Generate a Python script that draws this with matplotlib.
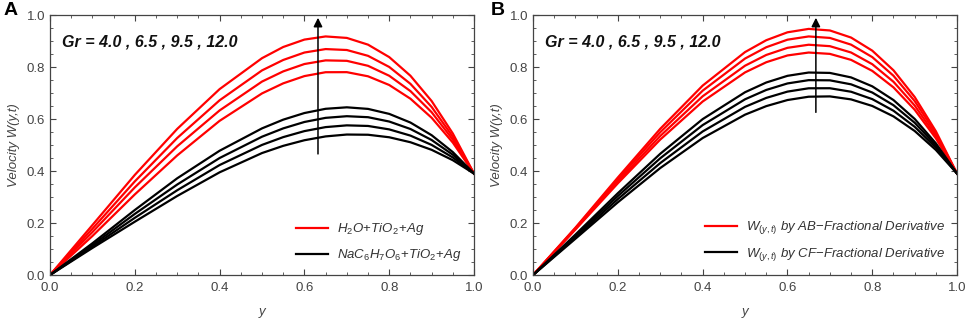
import matplotlib
matplotlib.use("Agg")
import matplotlib.pyplot as plt
from matplotlib.ticker import MultipleLocator

plt.rcParams['font.family'] = ['Liberation Sans', 'DejaVu Sans']
plt.rcParams['mathtext.fontset'] = 'custom'
plt.rcParams['mathtext.rm'] = 'Liberation Sans'
plt.rcParams['mathtext.it'] = 'Liberation Sans:italic'

# === données ===
y_pts = [0, 0.1, 0.2, 0.3, 0.4, 0.5, 0.55, 0.6, 0.65, 0.7, 0.75, 0.8, 0.85, 0.9, 0.95, 1.0]
gr_values = [4.0, 6.5, 9.5, 12.0]

# panneau A : H2O+TiO2+Ag (rouge), NaC6H7O6+TiO2+Ag (noir)
a_red = [
    [0, .1500, .3100, .4600, .5930, .6985, .7372, .7651, .7800, .7802, .7643, .7308, .6781, .6048, .5093, .39],
    [0, .1650, .3370, .4950, .6330, .7440, .7832, .8115, .8255, .8238, .8046, .7663, .7074, .6261, .5208, .39],
    [0, .1780, .3600, .5270, .6720, .7870, .8271, .8557, .8690, .8654, .8430, .8002, .7353, .6464, .5319, .39],
    [0, .1920, .3850, .5620, .7150, .8340, .8770, .9055, .9176, .9119, .8860, .8381, .7664, .6691, .5442, .39],
]
a_black = [
    [0, .1040, .2050, .3040, .3950, .4691, .4968, .5184, .5331, .5403, .5395, .5298, .5107, .4815, .4415, .39],
    [0, .1090, .2200, .3260, .4230, .5004, .5304, .5535, .5689, .5756, .5733, .5601, .5362, .5004, .4520, .39],
    [0, .1150, .2350, .3480, .4500, .5320, .5640, .5886, .6045, .6108, .6070, .5903, .5616, .5193, .4625, .39],
    [0, .1220, .2500, .3720, .4780, .5640, .5975, .6230, .6393, .6450, .6389, .6197, .5864, .5377, .4727, .39],
]

# panneau B : AB (rouge), CF (noir)
b_red = [
    [0, .1750, .3528, .5210, .6673, .7793, .8185, .8445, .8557, .8505, .8275, .7851, .7217, .6357, .5257, .39],
    [0, .1774, .3601, .5347, .6875, .8051, .8464, .8738, .8857, .8802, .8558, .8108, .7433, .6519, .5347, .39],
    [0, .1800, .3680, .5492, .7090, .8326, .8761, .9051, .9176, .9119, .8860, .8381, .7664, .6691, .5442, .39],
    [0, .1823, .3751, .5624, .7285, .8575, .9031, .9335, .9466, .9406, .9133, .8629, .7874, .6847, .5529, .39],
]
b_black = [
    [0, .1396, .2797, .4115, .5268, .6168, .6496, .6730, .6858, .6870, .6755, .6502, .6101, .5540, .4810, .39],
    [0, .1452, .2919, .4306, .5521, .6468, .6812, .7054, .7182, .7184, .7049, .6765, .6319, .5701, .4899, .39],
    [0, .1505, .3037, .4491, .5766, .6759, .7118, .7368, .7495, .7488, .7334, .7019, .6531, .5857, .4985, .39],
    [0, .1556, .3147, .4664, .5996, .7031, .7404, .7661, .7788, .7773, .7600, .7257, .6729, .6003, .5065, .39],
]

labels_a = [r'$H_2O\!+\!TiO_2\!+\!Ag$', r'$NaC_6H_7O_6\!+\!TiO_2\!+\!Ag$']
labels_b = [r'$W_{(y,t)}$ by AB$-$Fractional Derivative', r'$W_{(y,t)}$ by CF$-$Fractional Derivative']
arrow_x = [0.632, 0.667]
arrow_start = [0.455, 0.615]

fig = plt.figure(figsize=(9.69, 3.25), dpi=100)
ax_a = fig.add_axes([0.0516, 0.1538, 0.4376, 0.80])
ax_b = fig.add_axes([0.5501, 0.1538, 0.4376, 0.80])

gr_txt = "Gr = " + " , ".join(f"{g:.1f}" for g in gr_values)

for i, (ax, reds, blacks, labels, letter) in enumerate(zip(
        [ax_a, ax_b], [a_red, b_red], [a_black, b_black], [labels_a, labels_b], ['A', 'B'])):
    for k, curve in enumerate(reds):
        ax.plot(y_pts, curve, color='#ff0000', lw=1.6, label=labels[0] if k == 0 else None)
    for k, curve in enumerate(blacks):
        ax.plot(y_pts, curve, color='black', lw=1.6, label=labels[1] if k == 0 else None)

    ax.annotate('', xy=(arrow_x[i], 1.0), xytext=(arrow_x[i], arrow_start[i]),
                arrowprops=dict(arrowstyle='-|>', color='black', lw=1.1, mutation_scale=13))
    ax.text(0.028, 0.895, gr_txt, fontsize=11.5, fontweight='bold', fontstyle='italic',
            va='center', ha='left', color='#111111')

    ax.set_xlim(0, 1)
    ax.set_ylim(0, 1)
    ax.xaxis.set_major_locator(MultipleLocator(0.2))
    ax.yaxis.set_major_locator(MultipleLocator(0.2))
    ax.xaxis.set_minor_locator(MultipleLocator(0.05))
    ax.yaxis.set_minor_locator(MultipleLocator(0.05))
    ax.tick_params(which='both', direction='in', top=True, right=True, color='#444444')
    ax.tick_params(which='major', length=4, labelsize=9.5, labelcolor='#444444')
    ax.tick_params(which='minor', length=2)
    ax.tick_params(axis='x', pad=5)
    for sp in ax.spines.values():
        sp.set_color('#444444')
        sp.set_linewidth(0.9)

    ax.set_xlabel('y', fontstyle='italic', fontsize=9.5, color='#444444', labelpad=9)
    ax.set_ylabel('Velocity W(y,t)', fontstyle='italic', fontsize=9.5, color='#444444', labelpad=5)

    leg = ax.legend(loc='lower right', frameon=False, fontsize=9.5, handlelength=2.4,
                    labelspacing=0.75, borderaxespad=0.5, handletextpad=0.7)
    for t in leg.get_texts():
        t.set_fontstyle('italic')
        t.set_color('#333333')

    fig.text(0.004 if letter == 'A' else 0.506, 0.955, letter, fontsize=14, fontweight='bold')

fig.savefig('out.png', dpi=100)
